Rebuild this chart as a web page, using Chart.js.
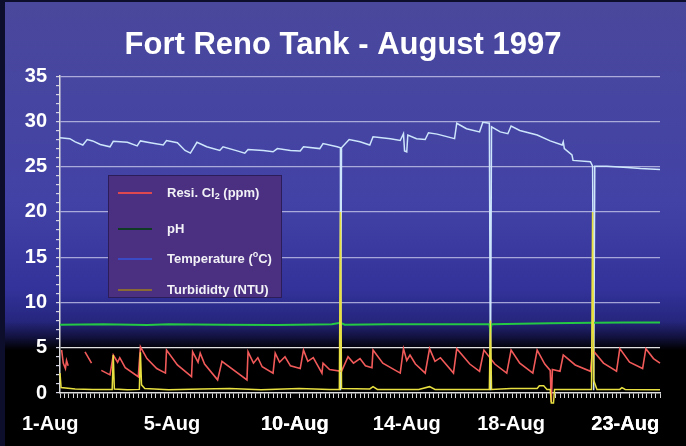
<!DOCTYPE html>
<html>
<head>
<meta charset="utf-8">
<title>Fort Reno Tank - August 1997</title>
<script src="https://cdn.jsdelivr.net/npm/chart.js@4.4.1/dist/chart.umd.min.js"></script>
<style>
  html, body { margin: 0; padding: 0; background: #000; }
  canvas { display: block; }
</style>
</head>
<body>
<canvas id="tankChart" width="686" height="446"></canvas>
<script>
// x is hours since the logger started, y is the shared 0-35 scale
const xLabelHours = [-9, 103, 216, 319, 415, 520];
const xLabels = ["1-Aug", "5-Aug", "10-Aug", "14-Aug", "18-Aug", "23-Aug"];
const minorTickStep = 4;
const hourMax = 552;

// residual chlorine (ppm), gaps where the analyser was off
const cl2Hours = [1.5, 3, 5, 6, 7.5, 8, 23, 29, 30, 38, 46, 49, 53, 55, 60, 72, 74, 80, 89, 97,
  98, 108, 121, 122, 127, 129, 133, 145, 149, 172, 173, 178, 182, 186, 196, 198, 202, 207, 212, 221,
  224, 228, 233, 241, 242, 248, 259, 265, 270, 276, 281, 287, 288, 297, 313, 316, 319, 322, 327, 336,
  340, 345, 350, 362, 365, 377, 386, 390, 400, 411, 415, 423, 435, 439, 446, 451, 452, 453, 460, 463,
  474, 488, 490, 500, 512, 515, 524, 536, 539, 546, 552];
const cl2Values = [4.75, 3.3, 2.7, 3.6, 3.0, null, 4.55, 3.3, null, 2.5, 2.0, 4.2, 3.4, 3.9, 2.8, 1.8, 5.1, 3.8, 2.7, 2.2,
  4.75, 3.1, 1.8, 4.55, 3.4, 4.4, 3.2, 1.45, 3.5, 1.45, 4.55, 3.3, 3.9, 2.9, 2.2, 4.4, 3.4, 4.0, 3.0, 2.7,
  4.75, 3.5, 3.9, 2.2, 3.3, 2.6, 2.4, 4.0, 3.3, 3.8, 3.0, 2.8, 4.75, 3.3, 2.2, 4.9, 3.6, 4.2, 3.2, 2.2,
  4.9, 3.5, 3.9, 2.2, 4.9, 3.2, 2.4, 4.75, 3.2, 2.2, 4.75, 3.3, 2.2, 4.75, 3.2, 2.5, -1.0, 2.6, 2.4, 4.2,
  3.1, 2.4, 4.75, 3.3, 2.4, 4.9, 3.4, 2.7, 4.9, 3.8, 3.3];

const phHours = [0, 40, 80, 100, 150, 200, 250, 258, 262, 300, 350, 395, 396, 397, 450, 490, 520, 552];
const phValues = [7.55, 7.6, 7.5, 7.6, 7.55, 7.5, 7.6, 7.75, 7.55, 7.6, 7.6, 7.6, 6.8, 7.6, 7.7, 7.75, 7.8, 7.8];

// water temperature (deg C), drops to zero are sensor dropouts
const tempHours = [0, 9, 14, 21, 25, 30, 37, 46, 49, 62, 71, 74, 83, 95, 98, 108, 115, 120, 126, 135,
  147, 150, 163, 170, 173, 187, 196, 200, 212, 221, 224, 239, 242, 255, 258, 258, 259, 266, 276, 285,
  288, 304, 313, 316, 317, 319, 320, 328, 336, 339, 347, 363, 365, 374, 386, 389, 395, 396, 397, 405,
  412, 415, 423, 439, 451, 462, 463, 464, 471, 472, 488, 490, 491, 492, 503, 522, 534, 552];
const tempValues = [28.2, 28.1, 27.75, 27.4, 28.0, 27.85, 27.45, 27.2, 27.8, 27.7, 27.3, 27.85, 27.65, 27.4, 27.9, 27.65, 26.8, 26.5, 27.7, 27.2,
  26.8, 27.2, 26.75, 26.5, 26.9, 26.8, 26.65, 27.0, 26.8, 26.75, 27.2, 27.0, 27.55, 27.2, 27.1, 0.3, 27.1, 28.0, 27.75, 27.4,
  28.3, 28.1, 27.9, 28.65, 26.75, 26.65, 28.5, 28.1, 28.0, 28.75, 28.6, 28.1, 29.8, 29.2, 28.85, 29.9, 29.8, 0.3, 29.4, 28.85,
  28.65, 29.5, 29.0, 28.5, 27.85, 27.4, 27.75, 27.0, 26.3, 25.7, 25.55, 25.05, 0.3, 25.05, 25.05, 24.9, 24.8, 24.7];

const turbHours = [0, 1, 14, 30, 48, 49, 50, 62, 73, 74, 75, 78, 100, 130, 156, 185, 220, 248, 257, 258,
  259, 285, 288, 292, 330, 340, 345, 380, 395, 396, 397, 415, 439, 441, 445, 448, 451, 452, 454, 455,
  470, 489, 490, 491, 494, 515, 517, 520, 552];
const turbValues = [2.2, 0.6, 0.45, 0.4, 0.4, 4.2, 0.45, 0.35, 0.4, 4.5, 0.9, 0.5, 0.35, 0.45, 0.5, 0.35, 0.5, 0.4, 0.4, 20,
  0.5, 0.45, 0.7, 0.4, 0.4, 0.7, 0.4, 0.4, 0.4, 8, 0.4, 0.5, 0.5, 0.8, 0.8, 0.4, 0.4, -1.1, -1.1, 0.4,
  0.4, 0.4, 20, 1.4, 0.4, 0.4, 0.6, 0.4, 0.35];

function toPoints(hours, values) {
  return hours.map((h, i) => ({ x: h, y: values[i] }));
}

Chart.defaults.font.family = '"Liberation Sans", Arial, sans-serif';

// legend rows: text pieces with 0 = normal, 1 = subscript, -1 = superscript
const legendRows = [
  { swatch: "#e04850", parts: [["Resi. Cl", 0], ["2", 1], [" (ppm)", 0]] },
  { swatch: "#0f3a24", parts: [["pH", 0]] },
  { swatch: "#3a4ac4", parts: [["Temperature (", 0], ["o", -1], ["C)", 0]] },
  { swatch: "#8a6a34", parts: [["Turbididty (NTU)", 0]] }
];
const legendRowY = [193, 229, 259, 290];

const backdrop = {
  id: "backdrop",
  beforeDraw(chart) {
    const { ctx, width, height } = chart;
    const g = ctx.createLinearGradient(0, 0, 0, height);
    g.addColorStop(0, "rgb(74,72,156)");
    g.addColorStop(0.45, "rgb(66,66,166)");
    g.addColorStop(0.65, "rgb(50,50,154)");
    g.addColorStop(0.72, "rgb(38,38,126)");
    g.addColorStop(0.755, "rgb(18,18,64)");
    g.addColorStop(0.785, "rgb(0,0,0)");
    ctx.save();
    ctx.fillStyle = g;
    ctx.fillRect(0, 0, width, height);
    ctx.fillStyle = "#0d0d2c";
    ctx.fillRect(0, 0, 5, height);
    ctx.fillRect(0, 0, width, 2);
    ctx.restore();
  }
};

const legendBox = {
  id: "legendBox",
  afterDatasetsDraw(chart) {
    const { ctx } = chart;
    ctx.save();
    ctx.fillStyle = "#4b3082";
    ctx.fillRect(108, 175, 174, 123);
    ctx.strokeStyle = "#2c1c58";
    ctx.lineWidth = 1;
    ctx.strokeRect(108.5, 175.5, 173, 122);
    ctx.textBaseline = "middle";
    legendRows.forEach((row, i) => {
      const y = legendRowY[i];
      ctx.strokeStyle = row.swatch;
      ctx.lineWidth = 2;
      ctx.beginPath();
      ctx.moveTo(118, y);
      ctx.lineTo(152, y);
      ctx.stroke();
      let x = 167;
      ctx.fillStyle = "#f2f2f6";
      row.parts.forEach(([txt, shift]) => {
        ctx.font = shift === 0 ? 'bold 13px "Liberation Sans", Arial' : 'bold 9px "Liberation Sans", Arial';
        ctx.fillText(txt, x, y + shift * 4);
        x += ctx.measureText(txt).width;
      });
    });
    ctx.restore();
  }
};

const ctx = document.getElementById("tankChart");
new Chart(ctx, {
  type: "line",
  data: {
    datasets: [
      {
        label: "Resi. Cl2 (ppm)",
        data: toPoints(cl2Hours, cl2Values),
        borderColor: "#f25a5a",
        borderWidth: 1.6,
        order: 1,
        clip: false
      },
      {
        label: "pH",
        data: toPoints(phHours, phValues),
        borderColor: "#24c844",
        borderWidth: 2,
        order: 2
      },
      {
        label: "Temperature (oC)",
        data: toPoints(tempHours, tempValues),
        borderColor: "#cde6fb",
        borderWidth: 1.5,
        order: 3
      },
      {
        label: "Turbididty (NTU)",
        data: toPoints(turbHours, turbValues),
        borderColor: "#e8e040",
        borderWidth: 1.5,
        order: 0,
        clip: false
      }
    ]
  },
  options: {
    responsive: false,
    animation: false,
    spanGaps: false,
    elements: {
      point: { radius: 0 },
      line: { tension: 0 }
    },
    layout: { padding: 0 },
    plugins: {
      legend: { display: false },
      tooltip: { enabled: false },
      title: {
        display: true,
        text: "Fort Reno Tank - August 1997",
        color: "#ffffff",
        font: { size: 31, weight: "bold" },
        padding: { top: 27, bottom: 12 }
      }
    },
    scales: {
      x: {
        type: "linear",
        min: 0,
        max: hourMax,
        afterBuildTicks(scale) {
          const ticks = [];
          for (let h = 0; h <= hourMax; h += minorTickStep) ticks.push({ value: h });
          xLabelHours.forEach(h => ticks.push({ value: h }));
          ticks.sort((a, b) => a.value - b.value);
          scale.ticks = ticks;
        },
        afterFit(scale) { scale.height = 53; },
        ticks: {
          autoSkip: false,
          maxRotation: 0,
          color: "#ffffff",
          font: { size: 20, weight: "bold" },
          padding: 14,
          callback(value) {
            const i = xLabelHours.indexOf(value);
            return i >= 0 ? xLabels[i] : "";
          }
        },
        grid: {
          drawOnChartArea: false,
          tickLength: 5,
          tickColor(c) {
            return c.tick && xLabelHours.includes(c.tick.value) ? "rgba(0,0,0,0)" : "#d6d6d6";
          }
        },
        border: { color: "#dcdcdc", width: 1.5 }
      },
      y: {
        min: 0,
        max: 35,
        afterFit(scale) { scale.width = 60; },
        ticks: {
          stepSize: 1,
          autoSkip: false,
          color: "#ffffff",
          font: { size: 20, weight: "bold" },
          padding: 9,
          callback(value) { return value % 5 === 0 ? value : ""; }
        },
        grid: {
          tickLength: 4,
          tickColor: "#d4d4e4",
          color(c) {
            const v = c.tick ? c.tick.value : 0;
            if (v === 0 || v % 5 !== 0) return "rgba(0,0,0,0)";
            return v === 5 ? "#e2e2e2" : "rgba(215,215,242,0.7)";
          },
          lineWidth: 1.2
        },
        border: { color: "#dcdcdc", width: 1.5 }
      },
      // empty right-hand margin so the title stays centred on the full width
      yRight: {
        position: "right",
        min: 0,
        max: 35,
        afterFit(scale) { scale.width = 26; },
        ticks: { display: false },
        grid: { display: false },
        border: { display: false }
      }
    }
  },
  plugins: [backdrop, legendBox]
});
</script>
</body>
</html>
